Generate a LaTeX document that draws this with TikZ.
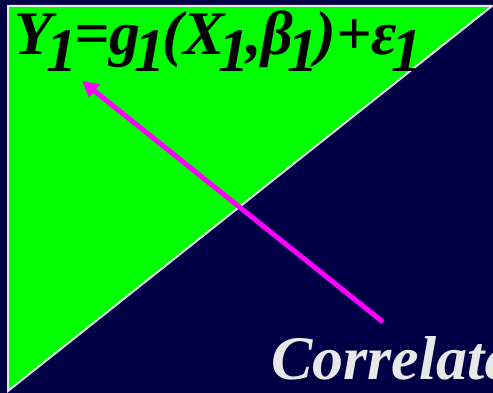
\documentclass[tikz,border=0pt]{standalone}
\usepackage{fontspec}
\setmainfont{Liberation Serif}
\usetikzlibrary{arrows.meta}
\definecolor{bgnavy}{RGB}{0,0,70}
\definecolor{brightgreen}{RGB}{0,255,0}
\definecolor{magentaarrow}{RGB}{255,0,255}
\definecolor{softwhite}{RGB}{232,232,232}
\newcommand{\lowsub}[1]{\kern-6pt\raisebox{-17pt}{#1}\kern-3pt}
\tikzset{
  edgeline/.style={draw=softwhite, line width=2pt},
  bigformula/.style={font=\fontsize{62}{64}\selectfont\bfseries\itshape, text=black, inner sep=0pt, anchor=base west},
  arrowline/.style={draw=magentaarrow, line width=5pt, -{Triangle[length=16pt,width=16pt]}},
  corrtext/.style={font=\fontsize{62}{64}\selectfont\bfseries\itshape, text=softwhite, inner sep=0pt, anchor=base west}
}
\begin{document}
\begin{tikzpicture}[x=1pt,y=1pt]
\useasboundingbox (0,0) rectangle (493,393);
\fill[bgnavy] (0,0) rectangle (493,393);
\coordinate (tl) at (8,387);
\coordinate (tr) at (492,387);
\coordinate (bl) at (8,2);
\fill[brightgreen] (tl) -- (tr) -- (bl) -- cycle;
\draw[edgeline] (bl) -- (tl) -- (tr) -- cycle;
\begin{scope}
\clip (0,0) rectangle (493,393);
\node[bigformula] (formula) at (14,338) {Y\lowsub{1}=g\lowsub{1}(X\lowsub{1},β\lowsub{1})+ε\lowsub{1}};
\node[corrtext] (corr) at (271,13) {Correlated};
\end{scope}
\coordinate (tail) at (383,71);
\coordinate (head) at (82,312);
\draw[arrowline] (tail) -- (head);
\end{tikzpicture}
\end{document}
